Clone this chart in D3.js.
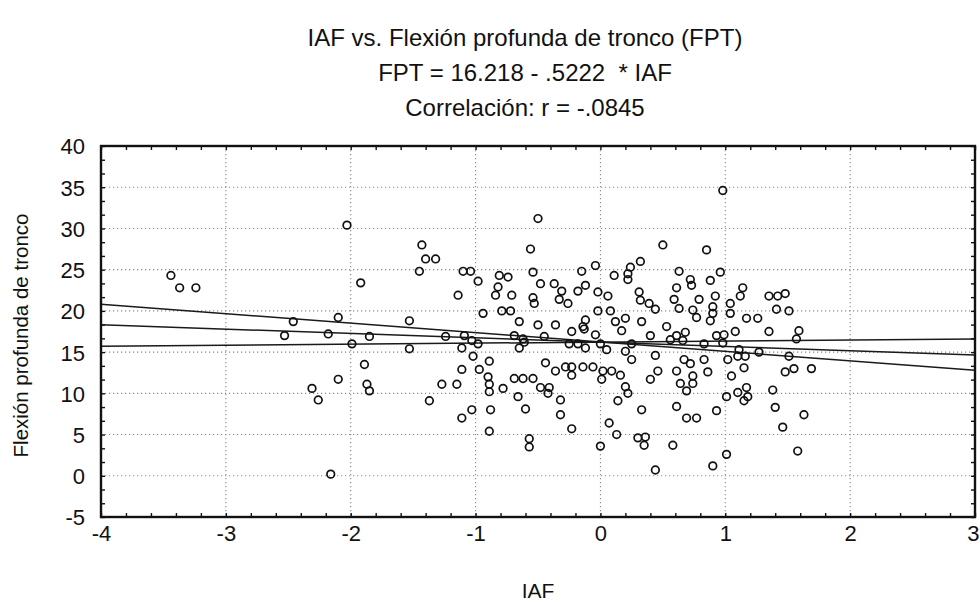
<!DOCTYPE html>
<html>
<head>
<meta charset="utf-8">
<script src="https://cdn.jsdelivr.net/npm/d3@7"></script>
<style>
  html, body { margin: 0; padding: 0; background: #fff; }
  svg text { font-family: "Liberation Sans", Arial, sans-serif; fill: #111; }
</style>
</head>
<body>
<svg id="chart" width="980" height="603"></svg>
<script>
// Scatter of IAF against Flexión profunda de tronco (FPT)
const titleLines = [
  "IAF vs. Flexión profunda de tronco (FPT)",
  "FPT = 16.218 - .5222  * IAF",
  "Correlación: r = -.0845"
];
const xLabel = "IAF";
const yLabel = "Flexión profunda de tronco";

const xTicks = [-4, -3, -2, -1, 0, 1, 2, 3];
const yTicks = [-5, 0, 5, 10, 15, 20, 25, 30, 35, 40];

// Fitted line FPT = a + b * IAF
const fitIntercept = 16.218;
const fitSlope = -0.5222;
// Ends of the drawn lines and the two confidence lines
const lineIAF = [-4, 3];
const limitA = [20.8, 12.8];
const limitB = [15.7, 16.6];

// Observations
const iaf = [
  -3.44, -3.37, -3.24, -2.53, -2.46, -2.31, -2.26, -2.18, -2.16, -2.10,
  -2.10, -2.03, -1.99, -1.92, -1.89, -1.87, -1.85, -1.85, -1.53, -1.53,
  -1.45, -1.43, -1.40, -1.37, -1.32, -1.27, -1.24, -1.15, -1.14, -1.11,
  -1.11, -1.11, -1.10, -1.09, -1.04, -1.03, -1.03, -1.02, -0.98, -0.98,
  -0.97, -0.94, -0.90, -0.89, -0.89, -0.89, -0.88, -0.89, -0.84, -0.82,
  -0.81, -0.79, -0.78, -0.74, -0.72, -0.71, -0.69, -0.69, -0.66, -0.65,
  -0.65, -0.62, -0.61, -0.62, -0.60, -0.57, -0.57, -0.56, -0.54, -0.54,
  -0.54, -0.53, -0.50, -0.50, -0.48, -0.48, -0.45, -0.44, -0.42, -0.41,
  -0.37, -0.36, -0.36, -0.33, -0.32, -0.32, -0.31, -0.28, -0.26, -0.25,
  -0.23, -0.23, -0.23, -0.23, -0.18, -0.18, -0.15, -0.14, -0.14, -0.13,
  -0.12, -0.12, -0.12, -0.06, -0.04, -0.04, -0.02, -0.02, 0.00, 0.00,
  0.01, 0.02, 0.05, 0.06, 0.07, 0.08, 0.09, 0.11, 0.12, 0.13,
  0.14, 0.16, 0.17, 0.20, 0.20, 0.20, 0.22, 0.22, 0.22, 0.24,
  0.25, 0.25, 0.30, 0.31, 0.32, 0.32, 0.33, 0.33, 0.36, 0.35,
  0.39, 0.40, 0.40, 0.44, 0.44, 0.44, 0.46, 0.50, 0.53, 0.56,
  0.58, 0.59, 0.61, 0.61, 0.61, 0.61, 0.63, 0.63, 0.64, 0.66,
  0.67, 0.68, 0.69, 0.69, 0.72, 0.72, 0.73, 0.74, 0.74, 0.74,
  0.77, 0.77, 0.79, 0.83, 0.83, 0.85, 0.86, 0.88, 0.88, 0.90,
  0.90, 0.90, 0.92, 0.93, 0.93, 0.96, 0.98, 0.98, 0.99, 1.01,
  1.01, 1.02, 1.04, 1.04, 1.05, 1.08, 1.10, 1.10, 1.11, 1.12,
  1.14, 1.15, 1.15, 1.16, 1.17, 1.17, 1.18, 1.26, 1.27, 1.35,
  1.35, 1.38, 1.40, 1.41, 1.42, 1.46, 1.48, 1.48, 1.51, 1.51,
  1.55, 1.57, 1.58, 1.59, 1.63, 1.69
];
const fpt = [
  24.3, 22.8, 22.8, 17.0, 18.7, 10.6, 9.2, 17.2, 0.2, 19.2,
  11.7, 30.4, 16.0, 23.4, 13.5, 11.1, 10.3, 16.9, 18.8, 15.4,
  24.8, 28.0, 26.3, 9.1, 26.3, 11.1, 16.9, 11.1, 21.9, 15.5,
  12.9, 7.0, 24.8, 17.0, 24.8, 16.4, 8.0, 14.5, 23.6, 16.0,
  12.9, 19.7, 12.0, 13.9, 11.1, 10.2, 8.0, 5.4, 21.9, 22.9,
  24.3, 20.0, 10.6, 24.1, 20.0, 21.9, 17.0, 11.8, 9.6, 18.7,
  15.5, 16.6, 16.2, 11.8, 8.1, 4.5, 3.5, 27.5, 24.7, 21.6,
  11.8, 20.9, 31.2, 18.3, 23.3, 10.7, 16.9, 13.7, 10.0, 10.7,
  23.3, 18.3, 12.7, 21.4, 9.2, 7.4, 22.4, 13.2, 20.9, 16.0,
  17.5, 13.2, 12.2, 5.7, 22.4, 16.0, 24.8, 18.1, 13.2, 17.8,
  23.1, 18.9, 15.5, 13.2, 25.5, 17.1, 22.3, 20.0, 16.0, 3.6,
  11.7, 12.7, 15.3, 21.8, 6.4, 20.0, 12.7, 24.3, 18.7, 5.0,
  9.1, 12.2, 17.6, 19.1, 15.1, 10.8, 10.0, 24.5, 23.8, 25.3,
  16.0, 14.1, 4.6, 22.3, 26.0, 21.3, 18.7, 8.0, 4.7, 3.7,
  20.9, 17.0, 11.7, 20.2, 14.6, 0.7, 12.7, 28.0, 18.1, 16.5,
  3.7, 21.4, 22.8, 17.0, 12.7, 8.4, 24.8, 20.3, 11.2, 16.4,
  14.1, 17.4, 10.3, 7.0, 23.8, 13.6, 23.1, 20.1, 12.1, 11.2,
  19.2, 7.0, 21.4, 16.0, 14.1, 27.4, 12.6, 23.7, 18.8, 20.5,
  19.7, 1.2, 21.8, 17.0, 7.9, 24.7, 34.6, 16.1, 17.1, 9.6,
  2.6, 14.1, 20.9, 19.7, 12.1, 17.5, 14.5, 10.1, 15.3, 21.8,
  22.8, 13.1, 9.1, 14.5, 19.1, 10.7, 9.6, 19.1, 15.0, 21.8,
  17.5, 10.4, 8.3, 20.2, 21.8, 5.9, 22.1, 12.6, 20.0, 14.5,
  13.0, 16.6, 3.0, 17.6, 7.4, 13.0
];

const svg = d3.select("#chart");
const plot = { left: 101, right: 975, top: 146, bottom: 517 };

const x = d3.scaleLinear().domain([-4, 3]).range([plot.left, plot.right]);
const y = d3.scaleLinear().domain([-5, 40]).range([plot.bottom, plot.top]);
const fmt = d => String(d);

// Title block
svg.append("g")
  .selectAll("text")
  .data(titleLines)
  .join("text")
  .attr("x", 525)
  .attr("y", (d, i) => 46 + i * 35)
  .attr("text-anchor", "middle")
  .style("font-size", "24px")
  .style("white-space", "pre")
  .text(d => d);

// Dotted grid at the major values
const grid = svg.append("g").attr("stroke", "#8a8a8a").attr("stroke-width", 1.1)
  .attr("stroke-dasharray", "1.2,2.8");
grid.selectAll("line.gx")
  .data(xTicks.slice(1, -1))
  .join("line")
  .attr("class", "gx")
  .attr("x1", d => x(d)).attr("x2", d => x(d))
  .attr("y1", plot.top).attr("y2", plot.bottom);
grid.selectAll("line.gy")
  .data(yTicks.slice(1, -1))
  .join("line")
  .attr("class", "gy")
  .attr("x1", plot.left).attr("x2", plot.right)
  .attr("y1", d => y(d)).attr("y2", d => y(d));

// Inward minor ticks on all four sides
const xMinor = d3.range(-4, 3.0001, 0.2);
const yMinor = d3.range(-5, 40.0001, 5 / 3);
function tickStyle(g) {
  g.select(".domain").remove();
  g.selectAll(".tick text").remove();
  g.selectAll(".tick line").attr("stroke", "#111").attr("stroke-width", 1.4);
}
svg.append("g").attr("transform", `translate(0,${plot.bottom})`)
  .call(d3.axisBottom(x).tickValues(xMinor).tickSize(-4)).call(tickStyle);
svg.append("g").attr("transform", `translate(0,${plot.top})`)
  .call(d3.axisTop(x).tickValues(xMinor).tickSize(-4)).call(tickStyle);
svg.append("g").attr("transform", `translate(${plot.left},0)`)
  .call(d3.axisLeft(y).tickValues(yMinor).tickSize(-4)).call(tickStyle);
svg.append("g").attr("transform", `translate(${plot.right},0)`)
  .call(d3.axisRight(y).tickValues(yMinor).tickSize(-4)).call(tickStyle);

// Tick labels
const xAxis = svg.append("g").attr("transform", `translate(0,${plot.bottom})`)
  .call(d3.axisBottom(x).tickValues(xTicks).tickSize(0).tickPadding(24).tickFormat(fmt));
xAxis.select(".domain").remove();
xAxis.selectAll("text").style("font-size", "22px").attr("dy", 0).attr("fill", "#111");
// the last label sits at the page edge, so it is right-aligned to stay whole
xAxis.selectAll(".tick").filter(d => d === xTicks[xTicks.length - 1])
  .select("text").attr("text-anchor", "end").attr("x", 4);

const yAxis = svg.append("g").attr("transform", `translate(${plot.left},0)`)
  .call(d3.axisLeft(y).tickValues(yTicks).tickSize(0).tickPadding(16).tickFormat(fmt));
yAxis.select(".domain").remove();
yAxis.selectAll("text").style("font-size", "22px").attr("dy", "0.36em").attr("fill", "#111");

// Fitted line and confidence lines
const line = d3.line().x(d => x(d[0])).y(d => y(d[1]));
const fitLine = lineIAF.map(v => [v, fitIntercept + fitSlope * v]);
const lines = [fitLine, lineIAF.map((v, i) => [v, limitA[i]]), lineIAF.map((v, i) => [v, limitB[i]])];
svg.append("g")
  .selectAll("path")
  .data(lines)
  .join("path")
  .attr("d", line)
  .attr("fill", "none")
  .attr("stroke", "#1a1a1a")
  .attr("stroke-width", 1.5);

// Points
svg.append("g")
  .selectAll("circle")
  .data(d3.zip(iaf, fpt))
  .join("circle")
  .attr("cx", d => x(d[0]))
  .attr("cy", d => y(d[1]))
  .attr("r", 3.8)
  .attr("fill", "none")
  .attr("stroke", "#111")
  .attr("stroke-width", 1.7);

// Frame
svg.append("rect")
  .attr("x", plot.left).attr("y", plot.top)
  .attr("width", plot.right - plot.left).attr("height", plot.bottom - plot.top)
  .attr("fill", "none").attr("stroke", "#111").attr("stroke-width", 2.4);

// Axis titles
svg.append("text")
  .attr("x", (plot.left + plot.right) / 2)
  .attr("y", 598)
  .attr("text-anchor", "middle")
  .style("font-size", "21px")
  .text(xLabel);
svg.append("text")
  .attr("transform", `translate(28,${(plot.top + plot.bottom) / 2 + 4}) rotate(-90)`)
  .attr("text-anchor", "middle")
  .style("font-size", "20.5px")
  .text(yLabel);
</script>
</body>
</html>
